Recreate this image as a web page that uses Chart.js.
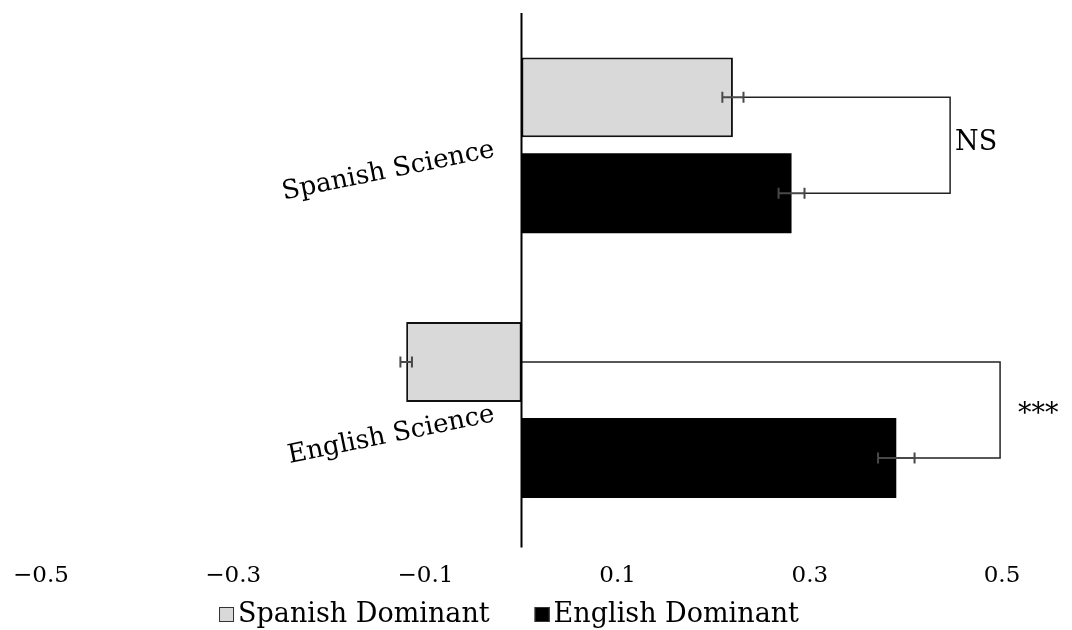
<!DOCTYPE html>
<html>
<head>
<meta charset="utf-8">
<script src="https://cdn.jsdelivr.net/npm/chart.js@4.4.1/dist/chart.umd.min.js"></script>
<style>
html,body{margin:0;padding:0;background:#fff;}
#wrap{width:1072px;height:630px;position:relative;}
</style>
</head>
<body>
<div id="wrap"><canvas id="c"></canvas></div>
<script>
// ---- data ----
const categories = ['Spanish Science', 'English Science'];
const seriesNames = ['Spanish Dominant', 'English Dominant'];
const spanishDominant = [0.220, -0.120];
const englishDominant = [0.281, 0.390];
const spanishDominantErr = [0.011, 0.006];
const englishDominantErr = [0.0135, 0.019];
const xTickValues = [-0.5, -0.3, -0.1, 0.1, 0.3, 0.5];
const significance = ['NS', '***'];
const bracketAt = [0.446, 0.498];

const FONT = '"DejaVu Serif", serif';
const errSets = [spanishDominantErr, englishDominantErr];

const overlay = {
  id: 'overlay',
  afterDatasetsDraw(chart, args, opts) {
    const {ctx, chartArea, scales: {x}} = chart;
    const x0 = x.getPixelForValue(0);
    const m0 = chart.getDatasetMeta(0), m1 = chart.getDatasetMeta(1);
    const d0 = chart.data.datasets[0].data, d1 = chart.data.datasets[1].data;
    ctx.save();
    // brackets + significance
    categories.forEach((c, i) => {
      const ya = m0.data[i].y, yb = m1.data[i].y;
      const xa = d0[i] > 0 ? x.getPixelForValue(d0[i] + errSets[0][i]) : x0;
      const xb = d1[i] > 0 ? x.getPixelForValue(d1[i] + errSets[1][i]) : x0;
      const bx = x.getPixelForValue(bracketAt[i]);
      ctx.strokeStyle = '#222';
      ctx.lineWidth = 1.5;
      ctx.beginPath();
      ctx.moveTo(xa, ya); ctx.lineTo(bx, ya); ctx.lineTo(bx, yb); ctx.lineTo(xb, yb);
      ctx.stroke();
      ctx.fillStyle = '#000';
      ctx.font = '27px ' + FONT;
      ctx.textAlign = 'left';
      ctx.textBaseline = 'alphabetic';
      const mid = (ya + yb) / 2;
      ctx.fillText(significance[i], bx + opts.sigDx[i], mid + opts.sigDy[i]);
    });
    // error bars
    chart.data.datasets.forEach((ds, di) => {
      chart.getDatasetMeta(di).data.forEach((bar, i) => {
        const v = ds.data[i], e = errSets[di][i];
        const yc = bar.y;
        const xa = x.getPixelForValue(v - e), xb = x.getPixelForValue(v + e);
        ctx.strokeStyle = '#484848';
        ctx.lineWidth = 2;
        ctx.beginPath();
        ctx.moveTo(xa, yc); ctx.lineTo(xb, yc);
        ctx.moveTo(xa, yc - 5.5); ctx.lineTo(xa, yc + 5.5);
        ctx.moveTo(xb, yc - 5.5); ctx.lineTo(xb, yc + 5.5);
        ctx.stroke();
      });
    });
    // zero axis line
    ctx.strokeStyle = '#000';
    ctx.lineWidth = 2;
    ctx.beginPath();
    ctx.moveTo(x0, chartArea.top);
    ctx.lineTo(x0, chartArea.bottom + 5);
    ctx.stroke();
    // category labels (rotated)
    const y = chart.scales.y;
    ctx.font = '26px ' + FONT;
    ctx.fillStyle = '#000';
    ctx.textAlign = 'right';
    ctx.textBaseline = 'alphabetic';
    categories.forEach((c, i) => {
      ctx.save();
      ctx.translate(x0 - 26, y.getPixelForValue(i) + 11);
      ctx.rotate(-11.5 * Math.PI / 180);
      ctx.fillText(c, 0, 0);
      ctx.restore();
    });
    // legend
    ctx.font = '27px ' + FONT;
    const box = 15, gap = 4, itemGap = 45;
    const widths = chart.data.datasets.map(ds => ctx.measureText(ds.label).width);
    const total = widths.reduce((a, w) => a + box + gap + w, 0) + itemGap * (widths.length - 1);
    let lx = opts.legendCenter - total / 2;
    const by = opts.legendBaseline;
    ctx.textAlign = 'left';
    chart.data.datasets.forEach((ds, di) => {
      ctx.fillStyle = ds.backgroundColor;
      ctx.fillRect(lx, by - box, box, box);
      ctx.strokeStyle = '#333';
      ctx.lineWidth = 1;
      ctx.strokeRect(lx + 0.5, by - box + 0.5, box - 1, box - 1);
      ctx.fillStyle = '#000';
      ctx.fillText(ds.label, lx + box + gap, by);
      lx += box + gap + widths[di] + itemGap;
    });
    ctx.restore();
  }
};

new Chart(document.getElementById('c'), {
  type: 'bar',
  data: {
    labels: categories,
    datasets: [
      {label: seriesNames[0], data: spanishDominant, backgroundColor: '#d9d9d9', borderColor: '#111', borderWidth: 2, borderSkipped: false},
      {label: seriesNames[1], data: englishDominant, backgroundColor: '#000000', borderColor: '#000', borderWidth: 0}
    ]
  },
  options: {
    indexAxis: 'y',
    responsive: true,
    maintainAspectRatio: false,
    animation: false,
    categoryPercentage: 0.725,
    barPercentage: 0.833,
    layout: {padding: {left: 41, right: 70, top: 13, bottom: 28}},
    plugins: {
      legend: {display: false},
      tooltip: {enabled: false},
      overlay: {sigDx: [5, 18], sigDy: [5, 12], legendCenter: 509, legendBaseline: 622}
    },
    scales: {
      x: {
        min: -0.5, max: 0.5,
        afterBuildTicks(scale) { scale.ticks = xTickValues.map(v => ({value: v})); },
        grid: {display: false},
        border: {display: false},
        ticks: {
          color: '#000',
          padding: 12,
          font: {family: FONT, size: 23},
          callback: v => (v < 0 ? '\u2212' : '') + Math.abs(v).toFixed(1)
        }
      },
      y: {display: false}
    }
  },
  plugins: [overlay]
});
</script>
</body>
</html>
